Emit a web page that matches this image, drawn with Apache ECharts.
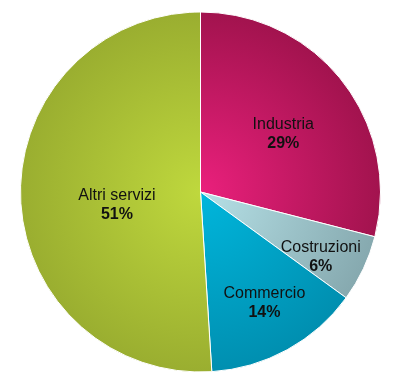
<!DOCTYPE html>
<html>
<head>
<meta charset="utf-8">
<script src="https://cdn.jsdelivr.net/npm/echarts@6/dist/echarts.min.js"></script>
<style>
  html, body { margin: 0; padding: 0; background: #ffffff; }
  #chart { width: 396px; height: 372px; }
</style>
</head>
<body>
<div id="chart"></div>
<script>
// Sector shares (percent), clockwise from 12 o'clock
const categories = ['Industria', 'Costruzioni', 'Commercio', 'Altri servizi'];
const shares = [29, 6, 14, 51];

// Radial shading per sector: [colour at the hub, colour at the rim]
const shades = [
  ['#ea207c', '#a2134e'],
  ['#b6e1e7', '#86a9af'],
  ['#00b6dc', '#008fb0'],
  ['#bfd83d', '#9aae30']
];

// Where each label sits: fraction of the radius and an angular nudge (degrees)
const labelSpots = [
  { ratio: 0.56, nudge: 3 },
  { ratio: 0.76, nudge: 3.3 },
  { ratio: 0.71, nudge: -1.2 },
  { ratio: 0.47, nudge: -7 }
];

const CX = 200.5, CY = 192, R = 180;

const total = shares.reduce((a, b) => a + b, 0);
const midAngles = [];
let acc = 0;
shares.forEach(v => { midAngles.push((acc + v / 2) / total * 360); acc += v; });

const chart = echarts.init(document.getElementById('chart'), null, { renderer: 'canvas' });

chart.setOption({
  backgroundColor: '#ffffff',
  animation: false,
  series: [{
    type: 'pie',
    center: [CX, CY],
    radius: [0, R],
    startAngle: 90,
    clockwise: true,
    avoidLabelOverlap: false,
    itemStyle: { borderColor: '#ffffff', borderWidth: 1 },
    emphasis: { disabled: true },
    label: {
      show: true,
      position: 'inside',
      formatter: p => '{n|' + p.name + '}\n{v|' + p.value + '%}',
      rich: {
        n: { fontFamily: 'Liberation Sans, Arial, sans-serif', fontSize: 16, color: '#111111', lineHeight: 19, align: 'center' },
        v: { fontFamily: 'Liberation Sans, Arial, sans-serif', fontSize: 16, fontWeight: 'bold', color: '#111111', lineHeight: 19, align: 'center' }
      }
    },
    labelLine: { show: false },
    labelLayout: params => {
      const i = params.dataIndex;
      const spot = labelSpots[i];
      const a = (midAngles[i] + spot.nudge) * Math.PI / 180;
      return {
        x: CX + R * spot.ratio * Math.sin(a),
        y: CY - R * spot.ratio * Math.cos(a),
        align: 'center',
        verticalAlign: 'middle'
      };
    },
    data: categories.map((name, i) => ({
      name: name,
      value: shares[i],
      itemStyle: {
        color: {
          type: 'radial',
          x: CX, y: CY, r: R,
          global: true,
          colorStops: [
            { offset: 0, color: shades[i][0] },
            { offset: 1, color: shades[i][1] }
          ]
        }
      }
    }))
  }]
});
</script>
</body>
</html>
